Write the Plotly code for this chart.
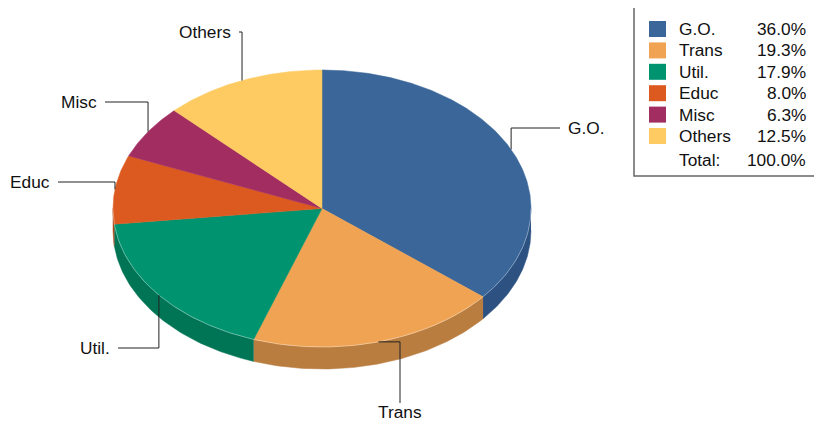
import numpy as np
import plotly.graph_objects as go

# ---- data ----
categories = ["G.O.", "Trans", "Util.", "Educ", "Misc", "Others"]
values = [36.0, 19.3, 17.9, 8.0, 6.3, 12.5]
top_colors = ["#3A6699", "#EFA353", "#00936F", "#DC5A1F", "#A22E61", "#FDCB61"]
side_colors = ["#2D5282", "#B97D40", "#007555", "#B04818", "#821F4C", "#CBA24D"]

# ---- layout (pixel-mapped axes; page body has an 8px margin) ----
W, H = 822, 423
OFF = 8
cx, cy, rx, ry, depth = 322.0, 208.5, 209.0, 138.5, 22.0
FONT = "Liberation Sans, Arial, sans-serif"
FS = 17.3

# label placement: (x_end, y, mode)
label_layout = {
    "G.O.":   (560, 128, "vh"),
    "Trans":  (400, 403, "hv"),
    "Util.":  (118, 348, "vh"),
    "Educ":   (58, 182, "vh"),
    "Misc":   (105, 102, "vh"),
    "Others": (239, 32, "vh"),
}


def pt(theta_deg, dy=0.0):
    t = np.radians(theta_deg)
    return cx + rx * np.sin(t), cy - ry * np.cos(t) + dy


fig = go.Figure()

total = sum(values)
starts = []
acc = 0.0
for v in values:
    starts.append(acc / total * 360.0)
    acc += v
ends = starts[1:] + [360.0]

# sides (front visible part: 90..270 deg)
for i in range(len(values)):
    a, b = max(starts[i], 90.0), min(ends[i], 270.0)
    if b <= a:
        continue
    th = np.linspace(a, b, 80)
    xt, yt = pt(th)
    xb, yb = pt(th[::-1], depth)
    fig.add_trace(go.Scatter(
        x=np.concatenate([xt, xb]), y=np.concatenate([yt, yb]),
        fill="toself", fillcolor=side_colors[i], mode="lines",
        line=dict(width=0.5, color=side_colors[i]), hoverinfo="skip", showlegend=False))

# top faces
for i in range(len(values)):
    th = np.linspace(starts[i], ends[i], max(8, int((ends[i] - starts[i]) * 2)))
    xs, ys = pt(th)
    fig.add_trace(go.Scatter(
        x=np.concatenate([[cx], xs, [cx]]), y=np.concatenate([[cy], ys, [cy]]),
        fill="toself", fillcolor=top_colors[i], mode="lines",
        line=dict(width=0.5, color=top_colors[i]), hoverinfo="skip", showlegend=False))

# faint highlight on front rim
th = np.linspace(90, 270, 200)
xs, ys = pt(th)
fig.add_trace(go.Scatter(x=xs, y=ys, mode="lines",
                         line=dict(width=1, color="rgba(255,255,255,0.35)"),
                         hoverinfo="skip", showlegend=False))

annotations = []
# leader lines + labels
for i, name in enumerate(categories):
    mid = (starts[i] + ends[i]) / 2.0
    ax_, ay_ = pt(mid)
    lx, ly, mode = label_layout[name]
    if mode == "vh":
        px = [ax_, ax_, lx]
        py = [ay_, ly, ly]
        if lx > ax_:
            annotations.append(dict(x=lx + 6, y=ly, text=name, xanchor="left", yanchor="middle"))
        else:
            annotations.append(dict(x=lx - 6, y=ly, text=name, xanchor="right", yanchor="middle"))
    else:
        px = [ax_, lx, lx]
        py = [ay_, ay_, ly]
        annotations.append(dict(x=lx, y=ly + 9, text=name, xanchor="center", yanchor="middle"))
    fig.add_trace(go.Scatter(x=px, y=py, mode="lines", line=dict(width=1, color="#222"),
                             hoverinfo="skip", showlegend=False))

# legend box
shapes = [dict(type="rect", x0=634, y0=7, x1=821, y1=176,
               line=dict(color="#666", width=1.5), fillcolor="white", layer="below")]
row0, dy = 29.0, 21.4
for i, name in enumerate(categories):
    y = row0 + dy * i
    shapes.append(dict(type="rect", x0=649, x1=666, y0=y - 8, y1=y + 8,
                       line=dict(width=0), fillcolor=top_colors[i]))
    annotations.append(dict(x=677, y=y, text=name, xanchor="left", yanchor="middle"))
    annotations.append(dict(x=808, y=y, text=f"{values[i] / total * 100:.1f}%",
                            xanchor="right", yanchor="middle"))
ty = row0 + dy * (len(categories) - 1) + 24
annotations.append(dict(x=677, y=ty, text="Total:", xanchor="left", yanchor="middle"))
annotations.append(dict(x=808, y=ty, text=f"{sum(values) / total * 100:.1f}%",
                        xanchor="right", yanchor="middle"))

for a in annotations:
    a.update(xref="x", yref="y", showarrow=False,
             font=dict(family=FONT, size=FS, color="#111"))

fig.update_layout(
    width=W - OFF, height=H - OFF, autosize=False,
    margin=dict(l=0, r=0, t=0, b=0),
    paper_bgcolor="white", plot_bgcolor="white",
    xaxis=dict(range=[OFF, W], visible=False, fixedrange=True),
    yaxis=dict(range=[H, OFF], visible=False, fixedrange=True),
    shapes=shapes, annotations=annotations, showlegend=False,
)

fig.write_html("out.html")
